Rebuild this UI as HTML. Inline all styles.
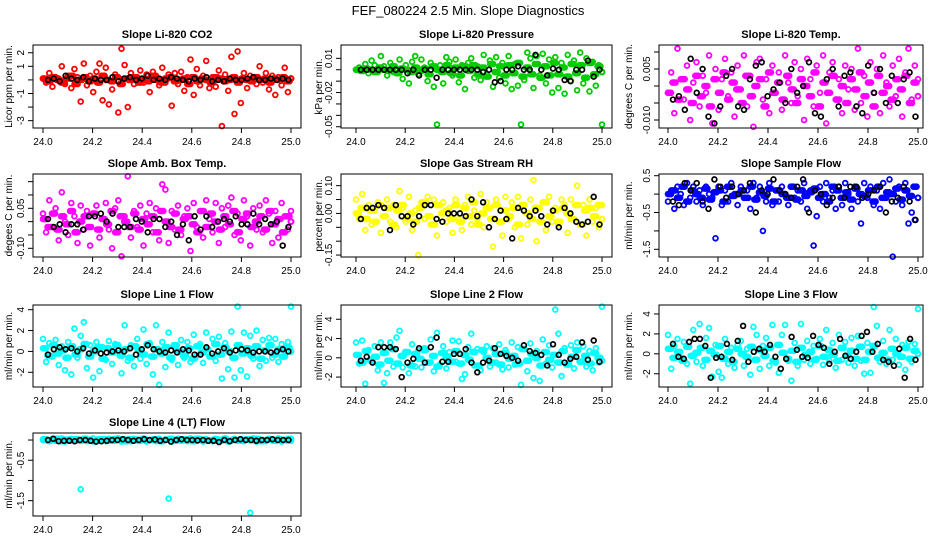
<!DOCTYPE html>
<html><head><meta charset="utf-8"><style>
html,body{margin:0;padding:0;background:#fff;}
svg{display:block;font-family:"Liberation Sans",Arial,sans-serif;}
</style></head><body>
<svg id="chart" width="936" height="540" viewBox="0 0 936 540" xmlns="http://www.w3.org/2000/svg">
<text x="468" y="15" text-anchor="middle" font-size="13">FEF_080224  2.5 Min. Slope Diagnostics</text>
</svg>
<script>
// ---- data arrays ----
const xTickValues = [24.0, 24.2, 24.4, 24.6, 24.8, 25.0];
const xTickLabels = ["24.0", "24.2", "24.4", "24.6", "24.8", "25.0"];

const co2Vals = [0.1,-0.2,0.5,-0.5,0.2,0.1,1.0,-0.3,0.3,-0.6,0.8,0.2,-1.6,1.2,-0.4,0.3,-0.9,0.6,1.2,-1.5,0.9,-1.8,-0.7,0.4,-2.4,2.3,1.1,-2.0,0.5,-0.3,0.2,0.7,-0.2,0.4,-0.9,0.6,0.3,-0.4,0.9,-0.2,0.4,-1.9,0.5,-0.3,0.6,-0.8,0.2,1.5,-1.1,0.8,-0.4,0.3,1.4,-0.6,0.2,-0.5,0.7,-3.4,0.4,-0.8,1.7,-2.5,2.1,-1.7,0.5,-0.6,0.3,0.2,-0.3,1.0,-0.2,0.5,-0.7,0.3,-1.1,0.2,-0.4,0.9,-0.9,0.1];
const co2Core = [0.1,-0.1,0.2,0,-0.2,0.1,0.3,-0.3,0,0.2,-0.1,0.1,-0.2,0.3,0,-0.1,0.2,-0.3,0.1,0,0.2,-0.2,0.1,-0.1,0.3,0,-0.2,0.1,0.2,-0.1,0,0.1,-0.3,0.2,-0.1,0.1,0,-0.2,0.2,0.1,-0.1,0,0.2,-0.2,0.1,0,-0.1,0.2,0,0.1,-0.2,0.1,0,0.2,-0.1,0.1];
const co2Black = [0,0.1,-0.1,0.3,0.1,0,0.2,-0.1,0.1,0,0,0.2,-0.1,0.1,0.2,0,0.1,0.3,0,0.1,0,0.2,0.1,0,-0.1,0.1,0,0.2,-0.1,0,-0.1,0.1,0,0,0.1,0.2,0,0,0.1,0,0.1,0];

const pressVals = [0,0.002,-0.001,0.005,-0.003,0.008,0.004,-0.002,0.012,0.003,-0.005,0.006,-0.002,0.001,0.009,-0.008,0.004,-0.012,0.007,0.012,-0.004,0.009,0.002,-0.01,0.006,-0.015,-0.048,0.004,-0.012,0.011,0.007,-0.005,0.009,-0.011,0.004,-0.017,0.006,0.01,-0.007,0.003,-0.009,0.013,-0.004,0.008,-0.015,0.011,-0.007,0.006,-0.012,0.012,-0.017,0.005,-0.014,-0.048,-0.009,0.015,0.01,-0.016,0.012,-0.005,0.014,-0.012,0.009,-0.02,0.011,-0.016,0.006,-0.021,0.013,-0.01,0.008,-0.018,0.015,-0.012,0.01,-0.019,0.007,-0.014,0.004,-0.048];
const pressCore = [0,-0.001,0.001,0,-0.002,0.002,0,-0.001,0.003,-0.003,0.001,0,-0.002,0.002,-0.001,0.001,-0.004,0.003,0,-0.002,0.004,-0.003,0.002,-0.005,0.003,-0.001,0.004,-0.004,0.002,-0.006,0.005,-0.002,0.003,-0.005,0.004,-0.003,0.006,-0.006,0.002,-0.004,0.005,-0.007,0.003,-0.005,0.006,-0.004,0.002,-0.006,0.005,-0.003,0.004,-0.007,0.006,-0.004,0.003,-0.002];
const pressBlack = [0,0,0,0,0,0,0,0,-0.003,0,-0.005,0,0,-0.007,0,0,0,0,0,0,0,-0.002,0,-0.011,-0.01,0,0,0.003,0,0,0.013,0,-0.005,0.001,0,-0.009,-0.01,0,0,0.008,-0.006,0];

const tempVals = [-0.002,0.004,-0.008,0.011,0.002,-0.004,0.006,-0.01,0.001,0.007,-0.006,0.003,-0.002,0.009,-0.011,0.005,-0.007,0.002,0.008,-0.003,0.004,-0.009,0.006,-0.001,0.009,-0.006,0.003,-0.012,0.007,0.008,-0.004,0.002,-0.008,0.006,-0.002,0.004,-0.007,0.009,0.001,-0.005,0.007,-0.003,0.005,-0.01,0.008,0.002,-0.006,0.006,-0.002,0.009,-0.011,0.004,0.007,-0.004,0.002,-0.008,0.006,-0.001,0.005,-0.007,0.011,-0.005,0.003,-0.009,0.007,-0.002,0.005,-0.008,0.009,0.001,-0.006,0.006,-0.003,0.008,-0.009,0.004,0.011,-0.004,0.006,0.002];
const tempCore = [-0.002,0.001,-0.004,0.002,-0.001,-0.005,0.003,-0.003,0,-0.006,0.002,-0.002,0.004,-0.004,0.001,-0.001,-0.005,0.003,-0.003,0,0.002,-0.006,0.004,-0.002,0.001,-0.004,0.003,-0.001,-0.005,0.002,0,-0.003,0.004,-0.006,0.001,-0.002,0.003,-0.004,0,-0.005,0.002,-0.001,0.004,-0.003,0.001,-0.006,0.003,-0.002,0,-0.004,0.002,-0.001,0.003,-0.005,0.001,-0.003];
const tempBlack = [-0.004,-0.003,-0.007,0.008,-0.002,0.005,-0.009,-0.011,-0.006,0.003,0.005,-0.006,-0.007,0.002,0.006,0.007,-0.003,-0.001,0.001,-0.005,0.005,-0.002,0,0.007,-0.008,-0.009,0.002,0.005,-0.006,0.003,0.004,-0.006,-0.008,0.006,-0.002,0.005,-0.005,0.003,-0.005,0.002,0.004,-0.009];

const ambVals = [0.03,-0.04,0.08,-0.02,0.05,-0.07,0.11,0.0,-0.05,0.07,0.02,-0.08,0.06,-0.03,0.04,-0.09,0.03,0.06,-0.06,0.01,0.07,-0.03,-0.1,0.05,0.08,-0.13,0.02,0.17,-0.06,0.04,-0.02,0.06,-0.09,0.03,0.07,-0.04,0.05,-0.07,0.14,0.12,-0.08,0.04,-0.03,0.06,-0.05,0.02,0.05,-0.11,0.07,-0.02,0.04,-0.06,0.08,0.01,-0.04,0.07,-0.08,0.05,-0.02,0.06,0.09,-0.05,0.03,-0.07,0.08,0.02,-0.09,0.05,-0.03,0.06,-0.04,0.08,0.03,-0.08,0.04,-0.06,0.07,0.02,-0.03,0.04];
const ambCore = [0.01,-0.02,0.03,-0.03,0.02,-0.01,0.04,-0.04,0,0.02,-0.02,0.03,-0.03,0.01,-0.01,0.04,-0.04,0.02,0,-0.02,0.03,-0.03,0.01,-0.01,0.02,-0.04,0.04,0,-0.02,0.03,-0.03,0.01,0.02,-0.01,-0.04,0.04,-0.02,0.03,0,-0.03,0.02,-0.01,0.04,-0.04,0.01,0.03,-0.02,0,0.02,-0.03,0.04,-0.01,0.01,-0.04,0.02,0];
const ambBlack = [0.01,-0.02,-0.01,-0.04,-0.01,-0.01,-0.03,0.02,0.02,0.03,0.0,0.03,-0.02,-0.02,-0.02,0.01,0.0,-0.04,0.01,0.01,-0.02,0.0,-0.05,-0.01,-0.07,0.02,-0.03,0.02,-0.02,0.0,0.01,0.0,0.02,-0.01,-0.01,0.03,-0.01,0.01,-0.01,0.0,-0.09,-0.02];

const rhVals = [0.05,-0.02,0.07,-0.06,0.03,-0.04,0.01,0.04,-0.07,0.02,0.05,-0.03,0.03,-0.05,0.08,0.02,-0.03,0.06,-0.06,0.01,-0.15,0.04,-0.02,0.06,-0.04,0.05,-0.08,0.03,0.04,-0.03,0.02,-0.07,0.05,-0.02,-0.06,0.03,0.06,-0.04,0.01,-0.02,0.07,-0.05,0.04,0.02,-0.12,0.05,-0.03,-0.08,0.06,-0.02,0.04,-0.05,0.06,-0.09,0.03,-0.04,0.05,0.12,-0.1,0.02,0.04,-0.06,0.06,-0.03,0.02,-0.04,0.05,0.03,-0.07,0.05,-0.02,0.1,-0.04,0.03,-0.08,0.05,-0.03,0.02,-0.05,0.03];
const rhCore = [0,0.02,-0.02,0.01,-0.03,0.03,-0.01,0.02,-0.04,0.01,0.03,-0.02,0,-0.03,0.02,0.04,-0.01,-0.04,0.03,0,0.01,-0.02,0.03,-0.03,0.02,-0.01,0.04,-0.04,0,0.02,-0.02,0.03,-0.03,0.01,-0.01,0.02,-0.04,0.03,0,-0.02,0.02,-0.03,0.04,-0.01,0.01,-0.03,0.02,0,-0.02,0.03,-0.04,0.01,0.02,-0.01,0.03,-0.02];
const rhBlack = [-0.02,0.02,0.02,0.03,0.02,-0.06,0.03,-0.01,-0.01,-0.04,-0.01,0.03,0.03,-0.02,-0.03,0.0,0.0,0.0,-0.01,0.05,-0.01,0.04,-0.05,-0.02,0.01,-0.02,-0.09,0.02,0.01,-0.01,0.01,-0.01,-0.04,0.01,-0.05,0.02,0.0,-0.03,-0.04,-0.03,0.06,-0.04];

const flowVals = [-0.2,0.1,-0.4,0.2,0.0,-0.3,0.3,-0.1,0.2,-0.2,0.1,-0.3,0.2,0.0,-0.1,-1.2,0.2,-0.3,0.1,-0.2,0.3,0.0,-0.3,0.2,-0.1,0.1,-0.4,0.3,-0.1,0.2,-1.0,-0.2,0.3,-0.3,0.1,-0.2,0.2,0.0,-0.3,0.2,-0.1,0.1,-0.2,0.3,-0.4,0.1,-1.4,-0.6,0.2,-0.2,0.3,-0.1,0.1,-0.4,0.2,-0.3,0.3,0.0,-0.4,0.2,-0.2,-0.8,0.3,-0.1,0.2,-0.3,0.1,-0.4,0.3,-0.1,0.4,-1.7,-0.2,0.2,-0.3,0.3,-0.8,-0.5,-0.7,-0.1];
const flowCore = [0,0.1,-0.1,0.2,-0.2,0.1,0,-0.1,0.15,-0.15,0.05,0.1,-0.2,0.2,-0.05,0,0.1,-0.1,0.2,-0.15,0.05,-0.05,0.15,-0.2,0.1,0,-0.1,0.2,-0.15,0.1,-0.05,0.05,0.15,-0.1,0,-0.2,0.2,0.1,-0.1,0.05,-0.15,0.15,0,-0.05,0.1,-0.2,0.2,-0.1,0.05,0,0.15,-0.15,0.1,-0.05,0.2,-0.1];
const flowBlack = [-0.2,-0.3,0.3,0.1,0.3,-0.2,-0.4,0.4,0.2,-0.1,0.2,0.0,0.1,0.3,-0.5,0.1,0.0,0.4,0.1,0.0,-0.1,0.2,0.4,-0.5,0.1,0.0,-0.3,-0.1,0.2,-0.1,0.2,0.2,-0.1,0.0,0.1,0.2,-0.5,-0.2,-0.1,0.2,-0.2,-0.7];

const line1Vals = [1.2,-1.0,0.8,-0.5,1.1,-1.3,0.5,-1.8,0.9,-2.2,2.2,-0.6,1.5,2.8,-1.6,0.6,-2.5,0.9,-1.9,0.4,-0.8,1.0,-1.2,0.7,0.3,-2.1,2.5,-0.9,0.6,-1.4,1.2,-0.7,2.1,-1.2,0.8,-2.2,2.5,-3.2,0.9,-1.5,1.8,-0.8,0.4,-1.3,1.1,-0.6,0.9,-1.0,1.6,-0.4,0.7,-1.1,1.8,-0.5,1.2,-0.9,1.4,-2.6,0.8,-1.7,1.9,-2.5,4.3,-1.8,1.8,-2.4,1.5,-0.7,2.0,-1.4,1.1,-0.9,1.3,-0.6,1.2,-1.0,0.7,-0.4,0.9,4.3];
const line1Core = [0.3,-0.4,0.6,-0.2,0.1,-0.6,0.5,-0.3,0.2,0.7,-0.5,0.0,0.4,-0.7,0.3,-0.1,0.6,-0.4,0.2,-0.6,0.5,0.1,-0.3,0.7,-0.5,0.2,-0.2,0.4,-0.6,0.6,0.0,-0.4,0.3,-0.7,0.5,-0.1,0.2,-0.5,0.7,-0.3,0.4,0.0,-0.6,0.6,-0.2,0.3,-0.4,0.5,-0.7,0.1,0.6,-0.3,0.2,-0.5,0.4,0.0];
const line1Black = [-0.3,0.2,0.4,0.2,0.3,0.0,0.3,-0.2,0.1,-0.2,-0.1,0.0,0.1,0.0,0.3,-0.3,0.2,0.6,0.2,0.0,-0.1,0.1,-0.1,0.2,0.1,-0.3,-0.3,0.4,-0.2,0.0,0.3,-0.1,0.1,0.2,0.1,-0.1,0.0,0.0,-0.1,0.0,0.2,0.0];

const line2Vals = [1.6,-0.6,1.8,-2.7,0.8,-0.4,1.2,-1.3,1.6,-2.6,-1.6,1.6,-0.9,2.1,2.8,-1.0,0.6,-1.6,1.4,-0.9,0.8,-1.0,1.0,-0.5,1.9,-1.4,2.6,-0.7,1.2,-1.1,0.6,1.8,-0.4,1.7,-2.2,-1.7,1.1,2.5,-0.8,0.9,-1.3,0.6,1.2,-0.9,1.0,-0.5,1.4,-1.2,0.8,-1.0,1.6,-0.7,1.1,-2.8,0.9,-1.4,1.5,-2.1,0.7,-2.4,1.9,-0.6,1.3,-1.0,5.0,2.5,-1.9,1.0,-0.7,1.3,-1.1,1.6,-0.4,1.2,-0.9,0.7,-1.3,1.0,-0.5,5.3];
const line2Core = [0.3,-0.5,0.7,-0.2,0.1,-0.7,0.5,-0.3,0.9,-0.6,0.2,0.6,-0.8,0.4,-0.1,0.8,-0.5,0.2,-0.9,0.5,0.1,-0.4,0.7,-0.6,0.3,-0.2,0.6,-0.8,0.8,0.0,-0.5,0.4,-0.7,0.5,-0.1,0.2,-0.6,0.9,-0.3,0.4,0.0,-0.8,0.6,-0.2,0.3,-0.5,0.7,-0.7,0.1,0.8,-0.4,0.2,-0.6,0.5,0.0,-0.3];
const line2Black = [-0.3,0.1,-0.5,1.1,1.1,1.1,0.9,-2.0,-0.5,-0.1,1.0,-0.5,1.1,2.1,-0.4,-0.4,0.4,0.4,0.9,-0.5,-1.5,-0.5,-0.3,1.0,0.4,0.2,0.0,-0.3,1.3,0.7,0.5,0.3,-0.8,1.4,0.3,-0.5,-0.1,0.1,1.6,-0.2,1.8,-0.4];

const line3Vals = [1.9,-1.5,0.8,1.5,-0.4,1.2,-1.0,-3.0,2.4,-0.8,3.0,-1.2,1.6,2.6,-2.3,0.9,-1.8,-2.4,1.5,-1.0,0.6,-1.4,0.9,1.3,-1.2,0.5,-2.1,2.7,1.9,-1.5,0.8,1.6,-1.2,2.9,-0.9,-1.9,1.9,2.9,-0.7,-2.7,1.1,-1.2,3.0,-0.6,1.3,-1.0,0.8,-0.5,1.5,-1.1,2.4,-0.7,1.1,-1.4,1.9,-0.6,1.2,-0.9,1.6,-1.2,1.8,-0.7,-2.0,1.1,-1.9,4.7,2.8,-0.8,1.3,-1.0,2.4,-0.6,1.5,-1.1,0.9,-1.6,1.2,-0.8,1.0,4.5];
const line3Core = [0.5,-0.4,0.2,-0.7,0.7,-0.2,0.1,0.6,-0.6,0.3,-0.1,0.8,-0.5,0.2,-0.8,0.5,0.0,-0.3,0.7,-0.6,0.4,-0.2,0.6,-0.7,0.9,0.1,-0.5,0.3,-0.8,0.6,-0.1,0.2,-0.6,0.8,-0.3,0.4,-0.1,-0.7,0.6,-0.2,0.3,-0.5,0.7,-0.6,0.2,0.8,-0.4,0.1,-0.6,0.5,0.0,-0.3,0.6,-0.5,0.3,0.0];
const line3Black = [1.0,-0.3,-0.5,1.2,1.5,1.5,0.8,-2.4,-0.4,-0.3,1.0,-0.6,1.3,2.8,-0.8,0.2,0.5,0.2,0.9,-0.3,-1.5,-0.5,1.7,0.4,-0.3,-0.4,1.8,0.9,0.6,-1.0,0.2,1.5,-0.2,-0.5,0.2,1.8,2.2,0.2,1.0,-0.6,-0.8,-1.2,0.5,-2.4,1.5,-0.6];

const line4Vals = [0.0,0.02,-0.03,0.03,-0.02,0.01,0.04,-0.04,0.0,0.03,-0.02,0.02,-1.22,0.03,-0.03,0.01,0.04,-0.04,0.02,0.0,-0.03,0.03,0.01,-0.02,0.04,-0.04,0.02,0.0,-0.03,0.03,0.01,-0.02,0.04,-0.04,0.0,0.02,-0.03,0.03,-0.02,0.01,-1.45,-0.04,0.0,0.03,-0.02,0.02,-0.03,0.04,0.01,-0.02,0.03,-0.04,0.02,0.0,-0.03,0.03,0.01,-0.02,0.04,-0.04,0.0,0.03,-0.02,0.02,-0.03,0.01,-1.8,0.04,-0.04,0.02,0.0,-0.03,0.03,0.01,-0.02,0.04,-0.04,0.0,0.03,-0.02];
const line4Core = [0.02,-0.02,0.0,0.03,-0.03,0.01,-0.01,0.02,-0.02,0.03,0.0,-0.03,0.01,0.02,-0.01,-0.02,0.03,0.0,-0.03,0.02,0.01,-0.02,0.03,-0.01,0.0,0.02,-0.03,0.01,0.03,-0.02,0.0,-0.01,0.02,-0.03,0.03,0.01,-0.02,0.0,0.02,-0.01,0.03,-0.03,0.01,0.0,-0.02,0.02,-0.01,0.03,-0.03,0.0,0.01,-0.02,0.02,0.0,-0.01,0.03];
const line4Black = [0.0,0.03,-0.03,-0.02,-0.02,-0.03,0.0,0.0,-0.02,-0.04,-0.03,-0.02,0.0,0.0,0.02,0.0,-0.02,0.0,0.02,0.0,0.01,-0.02,0.0,-0.04,0.0,0.02,0.0,0.0,-0.01,0.0,-0.02,-0.02,-0.05,0.0,-0.03,0.0,0.02,0.0,0.0,-0.02,0.0,0.0,0.02,0.0,0.0,0.0];

const co2Ticks = [-3,-2,-1,0,1,2];
const co2TickLabels = ["-3","","-1","","1","2"];
const pressTicks = [-0.05,-0.04,-0.03,-0.02,-0.01,0,0.01];
const pressTickLabels = ["-0.05","","","-0.02","","","0.01"];
const tempTicks = [-0.010,-0.005,0,0.005,0.010];
const tempTickLabels = ["-0.010","","","0.005",""];
const ambTicks = [-0.10,-0.05,0,0.05,0.10,0.15];
const ambTickLabels = ["-0.10","","","0.05","",""];
const rhTicks = [-0.15,-0.10,-0.05,0,0.05,0.10];
const rhTickLabels = ["-0.15","","","0.00","","0.10"];
const flowTicks = [-1.5,-1.0,-0.5,0,0.5];
const flowTickLabels = ["-1.5","","-0.5","","0.5"];
const lineTicks = [-2,0,2,4];
const lineTickLabels = ["-2","0","2","4"];
const line4Ticks = [-1.5,-1.0,-0.5,0];
const line4TickLabels = ["-1.5","","-0.5",""];

// ---- layout ----
const svg = document.getElementById('chart');
const NS = 'http://www.w3.org/2000/svg';
const cols = [{l:33,r:301,x0:43,x1:291,yl:12},{l:341,r:612,x0:356,x1:602,yl:322},{l:659,r:923,x0:668,x1:918,yl:632}];
const rows = [{t:45,b:128},{t:174,b:257},{t:305,b:387},{t:433,b:516}];

function mk(tag, attrs){ const e=document.createElementNS(NS,tag); for(const k in attrs) e.setAttribute(k,attrs[k]); return e; }

const panels = [
 {key:'co2', title:'Slope Li-820 CO2', ylab:'Licor ppm per min.', color:'#ff0000', dom:[-3.54,2.57], vals:co2Vals, core:co2Core, blk:co2Black, ticks:co2Ticks, tl:co2TickLabels, c:0, r:0},
 {key:'pressure', title:'Slope Li-820 Pressure', ylab:'kPa per min.', color:'#00cc00', dom:[-0.0511,0.0217], vals:pressVals, core:pressCore, blk:pressBlack, ticks:pressTicks, tl:pressTickLabels, c:1, r:0},
 {key:'licor-temp', title:'Slope Li-820 Temp.', ylab:'degrees C per min.', color:'#ff00ff', dom:[-0.01235,0.01206], vals:tempVals, core:tempCore, blk:tempBlack, ticks:tempTicks, tl:tempTickLabels, c:2, r:0},
 {key:'amb-box-temp', title:'Slope Amb. Box Temp.', ylab:'degees C per min.', color:'#ff00ff', dom:[-0.1326,0.1786], vals:ambVals, core:ambCore, blk:ambBlack, ticks:ambTicks, tl:ambTickLabels, c:0, r:1},
 {key:'gas-rh', title:'Slope Gas Stream RH', ylab:'percent per min.', color:'#ffff00', dom:[-0.157,0.142], vals:rhVals, core:rhCore, blk:rhBlack, ticks:rhTicks, tl:rhTickLabels, c:1, r:1},
 {key:'sample-flow', title:'Slope Sample Flow', ylab:'ml/min per min.', color:'#0000ff', dom:[-1.709,0.546], vals:flowVals, core:flowCore, blk:flowBlack, ticks:flowTicks, tl:flowTickLabels, c:2, r:1},
 {key:'line1', title:'Slope Line 1 Flow', ylab:'ml/min per min.', color:'#00ffff', dom:[-3.41,4.45], vals:line1Vals, core:line1Core, blk:line1Black, ticks:lineTicks, tl:lineTickLabels, c:0, r:2},
 {key:'line2', title:'Slope Line 2 Flow', ylab:'ml/min per min.', color:'#00ffff', dom:[-3.03,5.48], vals:line2Vals, core:line2Core, blk:line2Black, ticks:lineTicks, tl:lineTickLabels, c:1, r:2},
 {key:'line3', title:'Slope Line 3 Flow', ylab:'ml/min per min.', color:'#00ffff', dom:[-3.33,4.9], vals:line3Vals, core:line3Core, blk:line3Black, ticks:lineTicks, tl:lineTickLabels, c:2, r:2},
 {key:'line4', title:'Slope Line 4 (LT) Flow', ylab:'ml/min per min.', color:'#00ffff', dom:[-1.88,0.174], vals:line4Vals, core:line4Core, blk:line4Black, ticks:line4Ticks, tl:line4TickLabels, c:0, r:3}
];

panels.forEach(p=>{
  const C=cols[p.c], R=rows[p.r];
  const g=mk('g',{});
  
  
  svg.appendChild(g);
  const xs = v => C.x0 + (v-24)/(25-24)*(C.x1-C.x0);
  const ys = v => R.b - (v-p.dom[0])/(p.dom[1]-p.dom[0])*(R.b-R.t);
  const xi = (i,n,a,b,off) => xs(a + (b-a)*Math.min(1,(i+off)/(n-1)));

  const t=mk('text',{x:(C.l+C.r)/2,y:R.t-7,'text-anchor':'middle','font-size':'11','font-weight':'bold'});
  t.textContent=p.title;
  
  
  g.appendChild(t);

  const yl=mk('text',{x:C.yl,y:(R.t+R.b)/2,'text-anchor':'middle','font-size':'10',transform:`rotate(-90 ${C.yl} ${(R.t+R.b)/2})`});
  yl.textContent=p.ylab;
  
  
  g.appendChild(yl);

  const pts=mk('g',{fill:'none'});
  
  
  g.appendChild(pts);
  function dots(arr, a, b, color, r, sw, off){
    arr.forEach((v,i)=>{
      const c=mk('circle',{cx:xi(i,arr.length,a,b,off).toFixed(1),cy:ys(v).toFixed(1),r:r,stroke:color,'stroke-width':sw,fill:'none'});
      
      
      pts.appendChild(c);
    });
  }
  dots(p.core, 24.0, 25.0, p.color, 2.4, 1.8, 0);
  dots(p.core, 24.0, 25.0, p.color, 2.4, 1.8, 0.33);
  dots(p.core, 24.0, 25.0, p.color, 2.4, 1.8, 0.67);
  dots(p.vals, 24.0, 25.0, p.color, 2.4, 1.8, 0);
  dots(p.blk, 24.02, 24.99, '#000', 2.4, 1.7, 0);

  const box=mk('rect',{x:C.l,y:R.t,width:C.r-C.l,height:R.b-R.t,fill:'none',stroke:'#000','stroke-width':1});
  
  
  g.appendChild(box);

  const xa=mk('g',{});
  
  
  g.appendChild(xa);
  xTickValues.forEach((v,i)=>{
    const x=xs(v);
    xa.appendChild(mk('line',{x1:x,x2:x,y1:R.b,y2:R.b+5,stroke:'#000'}));
    const tx=mk('text',{x:x,y:R.b+17,'text-anchor':'middle','font-size':'10'});
    tx.textContent=xTickLabels[i];
    
    
    xa.appendChild(tx);
  });
  const ya=mk('g',{});
  
  
  g.appendChild(ya);
  p.ticks.forEach((v,i)=>{
    const y=ys(v);
    ya.appendChild(mk('line',{x1:C.l-5,x2:C.l,y1:y,y2:y,stroke:'#000'}));
    if(p.tl[i]){
      const lx=C.l-9;
      const tx=mk('text',{x:lx,y:y,'text-anchor':'middle','font-size':'10',transform:`rotate(-90 ${lx} ${y})`});
      tx.textContent=p.tl[i];
      
      
      ya.appendChild(tx);
    }
  });
});
</script>
</body></html>
